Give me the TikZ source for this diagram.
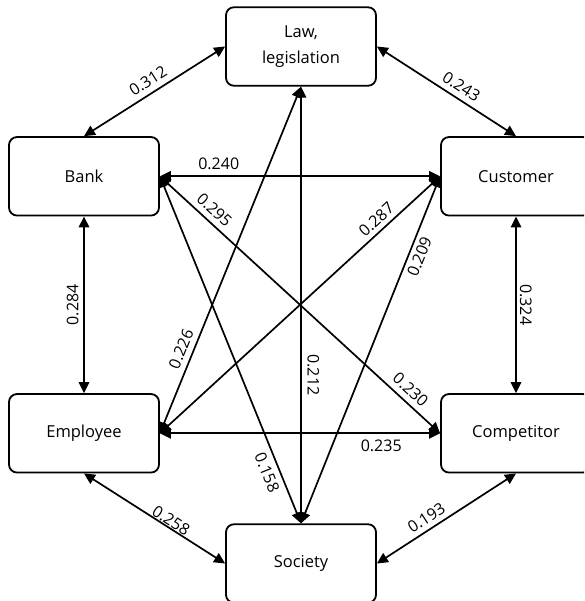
\documentclass[tikz,border=0pt]{standalone}
\usepackage{fontspec}
\setmainfont{Open Sans}
\usetikzlibrary{arrows.meta}
\begin{document}
\begin{tikzpicture}[x=1pt,y=1pt,
  box/.style={draw, line width=1.8pt, rounded corners=8pt, minimum width=150pt,
    minimum height=78.5pt, inner sep=0pt, align=center, fill=white,
    font=\fontsize{16.5}{26}\selectfont},
  link/.style={line width=1.7pt,
    {Triangle[length=11pt,width=10.5pt]}-{Triangle[length=11pt,width=10.5pt]}},
  lab/.style={font=\fontsize{16}{18}\selectfont, sloped, inner sep=5.5pt}
]
\useasboundingbox (0,0) rectangle (584,-601);
\clip (0,0) rectangle (584,-601);
\fill[white] (0,0) rectangle (584,-601);

\node[box] (law)  at (301,-46.5)  {Law,\\legislation};
\node[box] (bank) at (84,-176.3)  {Bank};
\node[box] (cust) at (516,-176.3) {Customer};
\node[box] (emp)  at (84,-433.3)  {Employee};
\node[box] (comp) at (516,-433.3) {Competitor};
\node[box] (soc)  at (301,-563.5) {Society};

\draw[link] (bank.north) -- node[lab,above]{0.312} (law.west);
\draw[link] (law.east) -- node[lab,above,pos=0.56]{0.243} (cust.north);
\draw[link] (bank.east) -- node[lab,above,pos=0.21]{0.240} (cust.west);
\draw[link] (emp.north) -- node[lab,above,inner sep=4.5pt]{0.284} (bank.south);
\draw[link] (cust.south) -- node[lab,above,inner sep=3pt]{0.324} (comp.north);
\draw[link] (emp.east) -- node[lab,below,pos=0.79]{0.235} (comp.west);
\draw[link] (emp.south) -- node[lab,above,pos=0.59,inner sep=0.5pt]{0.258} (soc.west);
\draw[link] (soc.east) -- node[lab,above,pos=0.4,inner sep=4.5pt]{0.193} (comp.south);
\draw[link] (law.south) -- node[lab,above,pos=0.66]{0.212} (soc.north);
\draw[link] (bank.east) -- node[lab,above,pos=0.165]{0.295}
                           node[lab,above,pos=0.865]{0.230} (comp.west);
\draw[link] (emp.east) -- node[lab,above,pos=0.8,inner sep=4.5pt]{0.287} (cust.west);
\draw[link] (soc.north) -- node[lab,below,pos=0.78,inner sep=4pt]{0.209} (cust.west);
\draw[link] (emp.east) -- node[lab,above,pos=0.23]{0.226} (law.south);
\draw[link] (bank.east) -- node[lab,below,pos=0.84]{0.158} (soc.north);
\end{tikzpicture}
\end{document}
